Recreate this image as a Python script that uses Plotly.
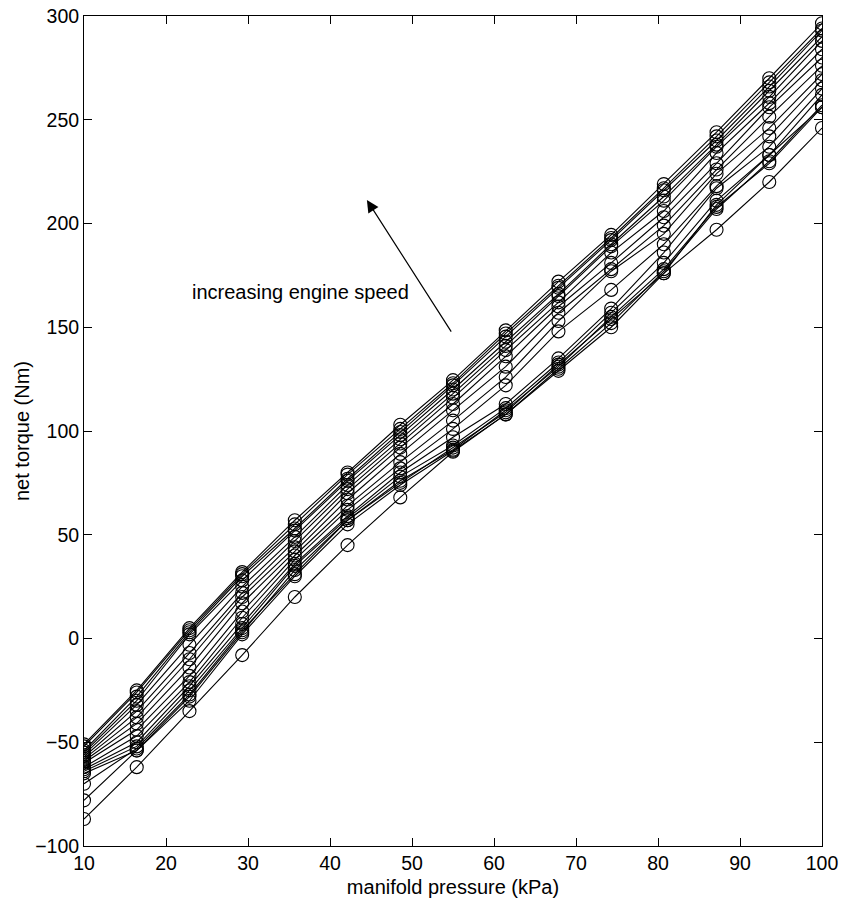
import plotly.graph_objects as go

# manifold pressure grid (kPa)
pressure_kpa = [10, 16.43, 22.86, 29.29, 35.71, 42.14, 48.57, 55.0,
                61.43, 67.86, 74.29, 80.71, 87.14, 93.57, 100]

# net torque (Nm), one curve per engine speed
torque_01 = [-51, -25, 5, 32, 57, 80, 103, 124.5, 148.5, 172, 194.5, 219, 244, 270, 296.5]
torque_02 = [-52, -26, 4, 31, 55, 79, 101, 123, 147, 170, 193, 217, 242, 268, 294]
torque_03 = [-54, -28, 3, 30, 53, 77, 99.5, 122, 145.5, 169, 192, 216, 240, 266, 293]
torque_04 = [-55, -30, 2, 28, 52, 76, 98, 120, 143, 166, 190, 213, 238, 264, 290]
torque_05 = [-56, -32, -3, 25, 49, 74, 96, 118, 141, 165, 189, 211, 237, 261, 288]
torque_06 = [-57, -35, -7, 22, 47, 72, 94, 116, 139, 162, 186, 206, 234, 258, 284]
torque_07 = [-58, -38, -10, 20, 44, 70, 92, 113, 136, 160, 181, 203, 229, 256, 280]
torque_08 = [-59, -41, -14, 17, 42, 67, 89, 110, 131, 157, 178, 199, 226, 251.5, 276]
torque_09 = [-60, -44, -18, 13, 40, 64, 85, 105, 126, 153, 177, 195, 224, 246, 272]
torque_10 = [-62, -47, -21, 10, 38, 62, 82, 101, 122, 148, 168, 190, 218, 242, 269]
torque_11 = [-63, -50, -23, 7, 36, 59, 80, 97, 113, 135, 159, 186, 217, 237, 265]
torque_12 = [-64, -52, -25, 5, 35, 58, 78, 93, 111, 133, 157, 181, 211, 233, 256]
torque_13 = [-65, -54, -28, 3, 33, 57, 76, 91, 110, 131, 155, 178, 208, 229, 256]
torque_14 = [-78, -54, -30, 2, 30, 55, 74, 90.5, 108, 130, 152, 177, 207, 230, 257]
torque_15 = [-70, -53, -27, 4, 31, 57, 75, 92, 109, 132, 154, 176, 209, 233, 262]
torque_16 = [-87, -62, -35, -8, 20, 45, 68, 90, 108, 129, 150, 176, 197, 220, 246]

curves = [torque_01, torque_02, torque_03, torque_04, torque_05, torque_06,
          torque_07, torque_08, torque_09, torque_10, torque_11, torque_12,
          torque_13, torque_14, torque_15, torque_16]

FONT = "Liberation Sans, Arial, Helvetica, sans-serif"

fig = go.Figure()
for torque in curves:
    fig.add_trace(go.Scatter(
        x=pressure_kpa, y=torque, mode="lines+markers",
        line=dict(color="black", width=1.1),
        marker=dict(symbol="circle-open", size=13, color="black",
                    line=dict(width=1.1, color="black")),
        showlegend=False, hoverinfo="x+y"))

axis_common = dict(
    showgrid=False, zeroline=False, showline=True, linecolor="black",
    linewidth=1, mirror="ticks", ticks="inside", ticklen=8, tickwidth=1,
    tickcolor="black", tickfont=dict(family=FONT, size=19.5, color="black"),
    automargin=False,
)

fig.update_xaxes(range=[10, 100], tick0=10, dtick=10,
                 title=dict(text="manifold pressure (kPa)",
                            font=dict(family=FONT, size=20, color="black"),
                            standoff=6),
                 **axis_common)
fig.update_yaxes(range=[-100, 300], tick0=-100, dtick=50,
                 title=dict(text="net torque (Nm)",
                            font=dict(family=FONT, size=20, color="black"),
                            standoff=0),
                 **axis_common)

# direction of increasing engine speed
fig.add_annotation(x=44.5, y=211.3, ax=54.9, ay=147.2,
                   xref="x", yref="y", axref="x", ayref="y",
                   text="", showarrow=True, arrowhead=2, arrowsize=2,
                   arrowwidth=1.2, arrowcolor="black")
fig.add_annotation(x=36.4, y=167, xref="x", yref="y",
                   text="increasing engine speed", showarrow=False,
                   font=dict(family=FONT, size=20, color="black"))

fig.update_layout(
    width=842, height=903,
    margin=dict(l=84, r=20, t=16, b=57),
    paper_bgcolor="white", plot_bgcolor="white",
)

fig.write_html("out.html")
